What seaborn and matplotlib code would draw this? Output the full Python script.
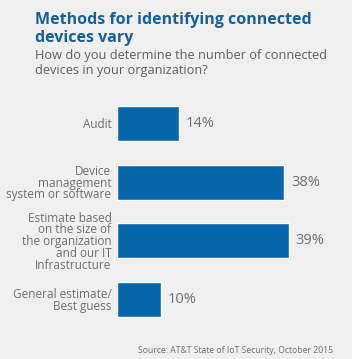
import matplotlib
matplotlib.use("Agg")
import matplotlib.pyplot as plt
import pandas as pd
import seaborn as sns

# chart data
methods = [
    "Audit",
    "Device\nmanagement\nsystem or software",
    "Estimate based\non the size of\nthe organization\nand our IT\nInfrastructure",
    "General estimate/\nBest guess",
]
shares = [14, 38, 39, 10]
value_labels = ["14%", "38%", "39%", "10%"]

BG = "#f0f0f0"
BAR = "#0866ad"
TITLE_BLUE = "#17609a"
GRAY = "#707070"

sns.set_theme(style="white")
plt.rcParams["font.family"] = ["Open Sans", "DejaVu Sans"]

df = pd.DataFrame({"method": methods, "share": shares})

fig = plt.figure(figsize=(3.52, 3.59), dpi=100, facecolor=BG)
ax = fig.add_axes([117 / 352, 1 - 328.8 / 359, 235 / 352, 234.7 / 359])
ax.set_facecolor(BG)

sns.barplot(data=df, x="share", y="method", color=BAR, width=0.6,
            saturation=1, ax=ax)

ax.set_xlim(0, 235 / 4.4)
ax.set_ylim(3.5, -0.5)
ax.set_xlabel("")
ax.set_ylabel("")
ax.set_xticks([])
for s in ax.spines.values():
    s.set_visible(False)

ax.tick_params(axis="y", length=0, pad=4, labelsize=8.5, labelcolor=GRAY)
for t in ax.get_yticklabels():
    t.set_linespacing(0.88)
    t.set_multialignment("right")

for i, (v, lab) in enumerate(zip(shares, value_labels)):
    ax.text(v + 1.6, i, lab, va="center", ha="left", fontsize=10.5, color=GRAY)

fig.text(35 / 352, 1 - 41.5 / 359, "Methods for identifying connected\ndevices vary",
         fontsize=11.5, fontweight="bold", color=TITLE_BLUE, ha="left",
         va="baseline", linespacing=1.1)
fig.text(35 / 352, 1 - 74 / 359,
         "How do you determine the number of connected\ndevices in your organization?",
         fontsize=9.2, color="#606060", ha="left", va="baseline", linespacing=1.2)
fig.text(333 / 352, 1 - 353 / 359, "Source: AT&T State of IoT Security, October 2015",
         fontsize=6.2, color=GRAY, ha="right", va="baseline")

fig.savefig("out.png", dpi=100, facecolor=BG)
